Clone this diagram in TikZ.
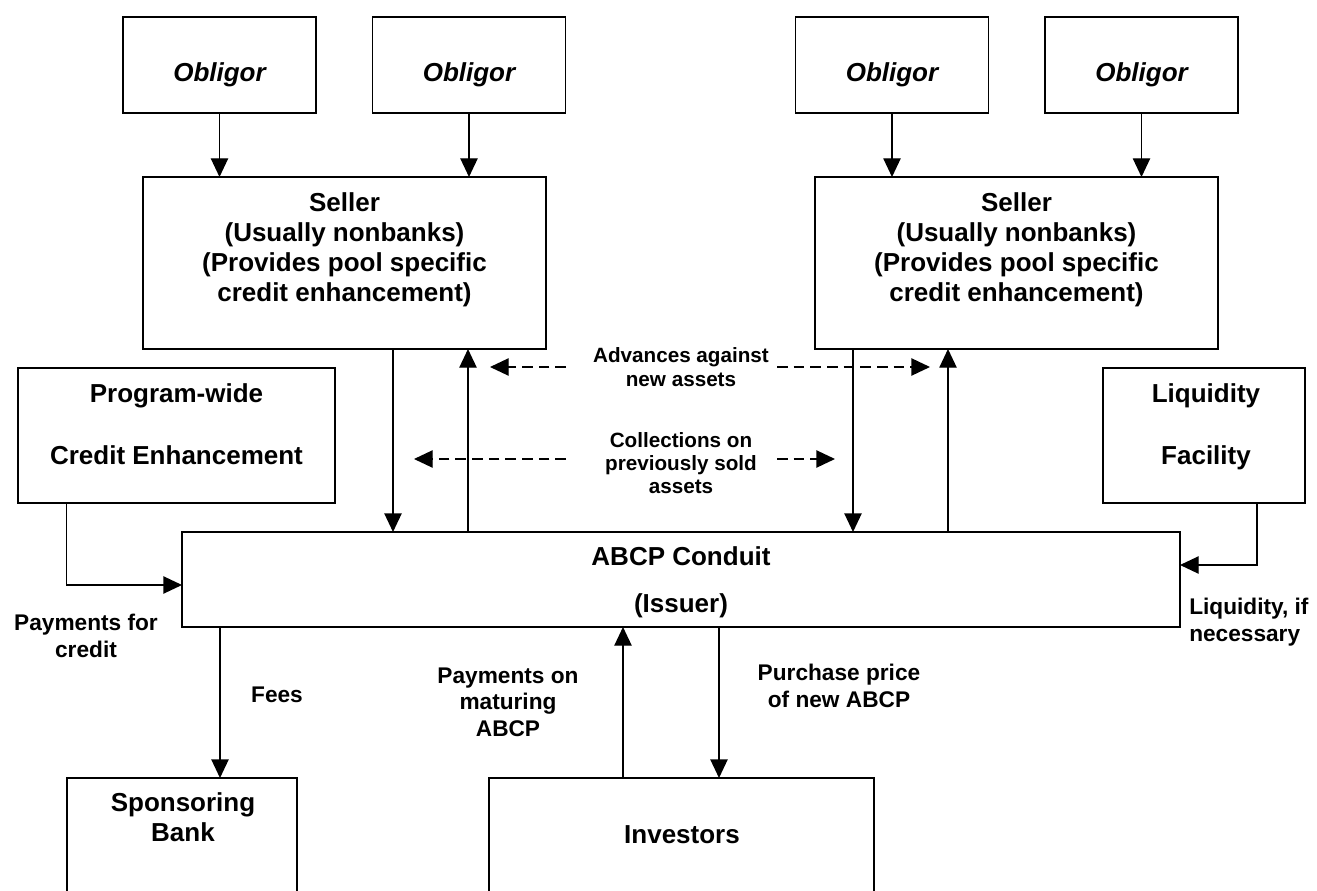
\documentclass[tikz,border=0pt]{standalone}
\usepackage{fontspec}
\setmainfont{Liberation Sans}
\usetikzlibrary{arrows.meta}
\tikzset{box/.style={draw=black, line width=1.2pt, rectangle, inner sep=0pt, outer sep=0pt},
  obligor/.style={box, minimum width=144.75pt, minimum height=72pt},
  boxtext/.style={font=\fontsize{19.5}{22.5}\selectfont\bfseries, align=center, inner sep=0pt},
  flowlabel/.style={font=\fontsize{15.5}{17.5}\selectfont\bfseries, align=center, inner sep=0pt},
  paylabel/.style={font=\fontsize{17}{20}\selectfont\bfseries, align=center, inner sep=0pt},
  flow/.style={->, line width=1pt},
  dashflow/.style={->, line width=1pt, dash pattern=on 8pt off 4.5pt},
  >={Triangle[length=14pt,width=13pt]}}

\begin{document}
\begin{tikzpicture}[x=0.75pt,y=-0.75pt]
      \useasboundingbox (0,0) rectangle (1317,891);
      \clip (0,0) rectangle (1317,891);

      % obligors
      \node[obligor] (ob1) at (219.5,65) {};
      \node[obligor] (ob2) at (469,65) {};
      \node[obligor] (ob3) at (892,65) {};
      \node[obligor] (ob4) at (1141.5,65) {};
      \node[boxtext,font=\fontsize{19.5}{22.5}\selectfont\bfseries\itshape] at (219.5,75) {Obligor};
      \node[boxtext,font=\fontsize{19.5}{22.5}\selectfont\bfseries\itshape] at (469,75) {Obligor};
      \node[boxtext,font=\fontsize{19.5}{22.5}\selectfont\bfseries\itshape] at (892,75) {Obligor};
      \node[boxtext,font=\fontsize{19.5}{22.5}\selectfont\bfseries\itshape] at (1141.5,75) {Obligor};

      % sellers
      \node[box,minimum width=302.25pt,minimum height=129pt] (sel1) at (344.5,263) {};
      \node[box,minimum width=302.25pt,minimum height=129pt] (sel2) at (1016.5,263) {};
      \node[boxtext] at (344.5,250) {Seller\\(Usually nonbanks)\\(Provides pool specific\\credit enhancement)};
      \node[boxtext] at (1016.5,250) {Seller\\(Usually nonbanks)\\(Provides pool specific\\credit enhancement)};

      \draw[flow] (ob1.south) -- (ob1.south |- sel1.north);
      \draw[flow] (ob2.south) -- (ob2.south |- sel1.north);
      \draw[flow] (ob3.south) -- (ob3.south |- sel2.north);
      \draw[flow] (ob4.south) -- (ob4.south |- sel2.north);

      % side boxes
      \node[box,minimum width=237.75pt,minimum height=101.25pt] (prog) at (176.5,435.5) {};
      \node[boxtext] at (176.5,424.5) {Program-wide\\[24pt]Credit Enhancement};
      \node[box,minimum width=151.5pt,minimum height=101.25pt] (liq) at (1204,435.5) {};
      \node[boxtext] at (1206,427) {Liquidity\\[24pt]Facility};

      % conduit
      \node[box,minimum width=748.5pt,minimum height=71.25pt] (cond) at (681,579.5) {};
      \node[boxtext] at (681,582) {ABCP Conduit\\[12.75pt](Issuer)};

      \draw[flow] (393,0 |- sel1.south) -- (393,0 |- cond.north);
      \draw[flow] (468,0 |- cond.north) -- (468,0 |- sel1.south);
      \draw[flow] (853,0 |- sel2.south) -- (853,0 |- cond.north);
      \draw[flow] (948,0 |- cond.north) -- (948,0 |- sel2.south);
      \draw[flow] (66.5,0 |- prog.south) |- (cond.west |- 0,585);
      \draw[flow] (1257,0 |- liq.south) |- (cond.east |- 0,565);

      % asset flows between sellers and conduit
      \node[flowlabel] (adv) at (681,367) {Advances against\\new assets};
      \node[flowlabel] (col) at (681,463) {Collections on\\previously sold\\assets};
      \coordinate (colL) at (566,459);
      \coordinate (colR) at (777,459);
      \draw[dashflow] (566,0 |- adv) -- (490,0 |- adv);
      \draw[dashflow] (777,0 |- adv) -- (930,0 |- adv);
      \draw[dashflow] (colL) -- (414,0 |- colL);
      \draw[dashflow] (colR) -- (835,0 |- colR);

      % bottom boxes
      \node[box,minimum width=172.5pt,minimum height=112.5pt] (sb) at (182,853) {};
      \node[boxtext] at (183,817) {Sponsoring\\Bank};
      \node[box,minimum width=288.75pt,minimum height=112.5pt] (inv) at (681.5,853) {};
      \node[boxtext] at (682,835) {Investors};

      \draw[flow] (220,0 |- cond.south) -- (220,0 |- sb.north);
      \draw[flow] (623,0 |- inv.north) -- (623,0 |- cond.south);
      \draw[flow] (719,0 |- cond.south) -- (719,0 |- inv.north);

      % payment labels
      \node[paylabel] (pfc) at (86,636) {Payments for\\credit};
      \node[paylabel,align=left,anchor=west] (lin) at (1189,622) {Liquidity, if\\necessary};
      \node[paylabel] (fees) at (277,695) {Fees};
      \node[paylabel] (pom) at (508,702) {Payments on\\maturing\\ABCP};
      \node[paylabel] (ppn) at (839,686) {Purchase price\\of new ABCP};
\end{tikzpicture}
\end{document}
